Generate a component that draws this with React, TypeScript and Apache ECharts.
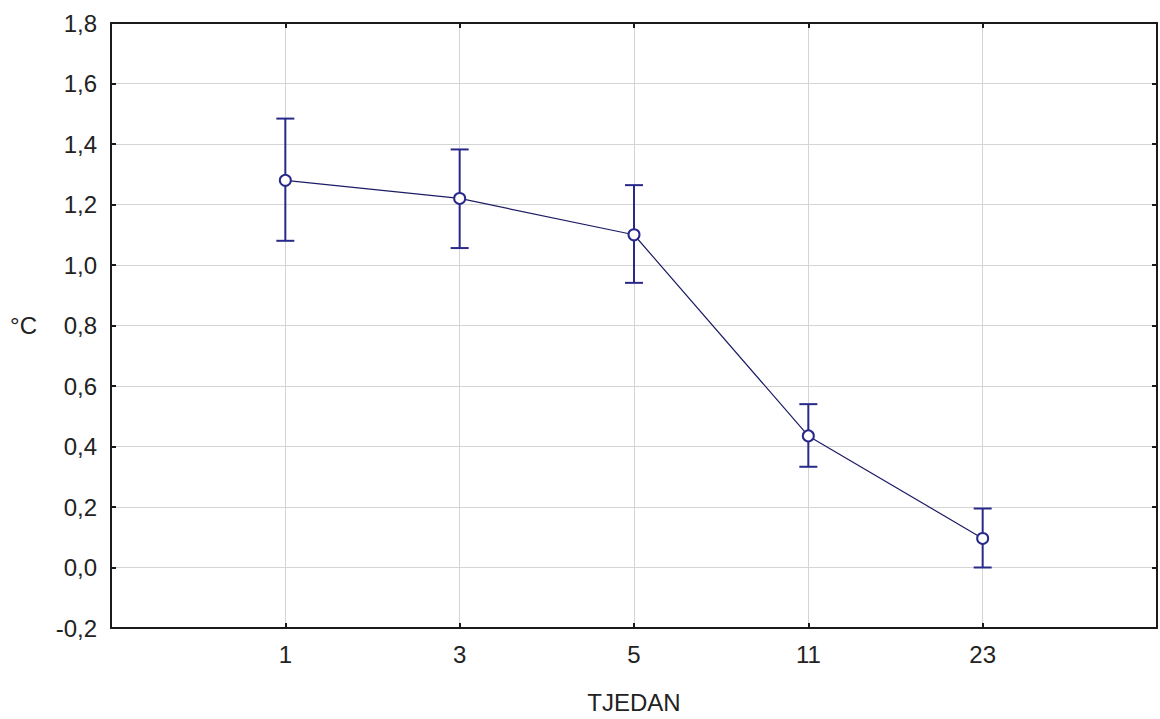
import React, { useEffect, useRef } from "react";
import * as echarts from "echarts";

const categories = ["1", "3", "5", "11", "23"];
const means = [1.28, 1.22, 1.1, 0.435, 0.096];
const upper = [1.484, 1.382, 1.264, 0.54, 0.195];
const lower = [1.08, 1.056, 0.941, 0.333, 0.0];

const FONT = "Liberation Sans, Arial, sans-serif";
const NAVY = "#29298a";
const FS = 24;

export default function App() {
  const ref = useRef<HTMLDivElement>(null);
  useEffect(() => {
    if (!ref.current) return;
    const chart = echarts.init(ref.current, null, { renderer: "svg" });
    const pos = categories.map((_, i) => i + 1);
    const lineData = pos.map((p, i) => [p, means[i]]);
    const errData = pos.map((p, i) => [p, lower[i], upper[i]]);
    const axisLine = { show: true, onZero: false, lineStyle: { color: "#1a1a1a", width: 2 } };
    const tick = { show: true, inside: true, length: 5, lineStyle: { color: "#1a1a1a", width: 2 } };
    chart.setOption({
      animation: false,
      backgroundColor: "#ffffff",
      grid: { left: 111, top: 23, right: 1, bottom: 88, containLabel: false },
      xAxis: [
        {
          type: "value",
          min: 0,
          max: 6,
          interval: 1,
          position: "bottom",
          axisLine,
          axisTick: tick,
          splitLine: { show: true, lineStyle: { color: "#d4d4d4", width: 1 } },
          axisLabel: {
            margin: 14,
            color: "#222",
            fontFamily: FONT,
            fontSize: FS,
            formatter: (v: number) => (v >= 1 && v <= categories.length ? categories[v - 1] : ""),
          },
          name: "TJEDAN",
          nameLocation: "middle",
          nameGap: 62,
          nameTextStyle: { color: "#222", fontFamily: FONT, fontSize: FS },
        },
        {
          type: "value",
          min: 0,
          max: 6,
          interval: 1,
          position: "top",
          axisLine,
          axisTick: tick,
          splitLine: { show: false },
          axisLabel: { show: false },
        },
      ],
      yAxis: [
        {
          type: "value",
          min: -0.2,
          max: 1.8,
          interval: 0.2,
          position: "left",
          axisLine,
          axisTick: tick,
          splitLine: { show: true, lineStyle: { color: "#d4d4d4", width: 1 } },
          axisLabel: {
            margin: 14,
            color: "#222",
            fontFamily: FONT,
            fontSize: FS,
            formatter: (v: number) => v.toFixed(1).replace(".", ","),
          },
          name: "°C",
          nameLocation: "middle",
          nameRotate: 0,
          nameGap: 74,
          nameTextStyle: { color: "#222", fontFamily: FONT, fontSize: FS },
        },
        {
          type: "value",
          min: -0.2,
          max: 1.8,
          interval: 0.2,
          position: "right",
          axisLine,
          axisTick: tick,
          splitLine: { show: false },
          axisLabel: { show: false },
        },
      ],
      series: [
        {
          type: "custom",
          xAxisIndex: 0,
          yAxisIndex: 0,
          data: errData,
          z: 3,
          renderItem: (params: any, api: any) => {
            const x = api.value(0);
            const lo = api.coord([x, api.value(1)]);
            const hi = api.coord([x, api.value(2)]);
            const hw = 9;
            const style = { stroke: NAVY, lineWidth: 2 };
            return {
              type: "group",
              children: [
                { type: "line", shape: { x1: lo[0], y1: lo[1], x2: hi[0], y2: hi[1] }, style },
                { type: "line", shape: { x1: lo[0] - hw, y1: lo[1], x2: lo[0] + hw, y2: lo[1] }, style },
                { type: "line", shape: { x1: hi[0] - hw, y1: hi[1], x2: hi[0] + hw, y2: hi[1] }, style },
              ],
            };
          },
        },
        {
          type: "line",
          xAxisIndex: 0,
          yAxisIndex: 0,
          data: lineData,
          z: 4,
          symbol: "emptyCircle",
          symbolSize: 11,
          itemStyle: { color: NAVY, borderColor: NAVY, borderWidth: 2 },
          lineStyle: { color: "#1c1c66", width: 1.2 },
        },
      ],
    });
    return () => chart.dispose();
  }, []);
  return (
    <div
      ref={ref}
      style={{ position: "absolute", left: 0, top: 0, width: 1160, height: 719 }}
    />
  );
}
